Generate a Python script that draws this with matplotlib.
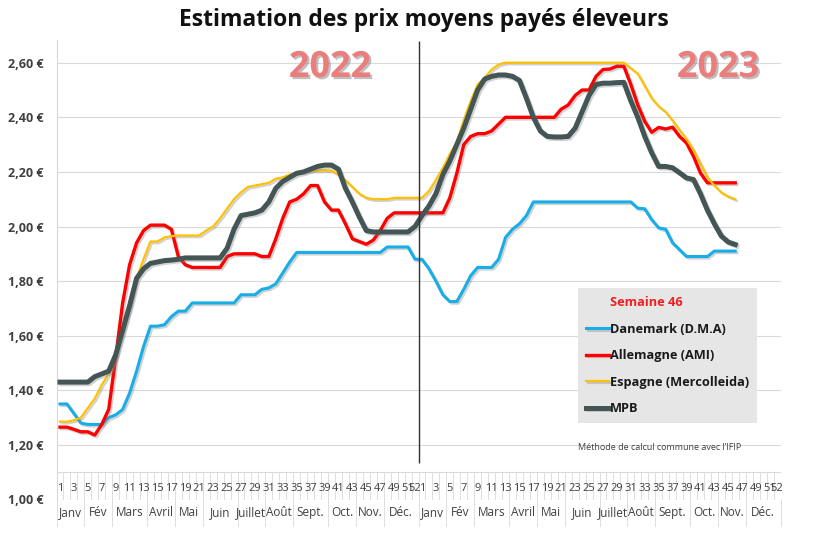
import numpy as np
import matplotlib
matplotlib.use("Agg")
import matplotlib.pyplot as plt
import matplotlib.patheffects as pe
from matplotlib.lines import Line2D
from matplotlib.transforms import blended_transform_factory

plt.rcParams['font.family'] = ['Open Sans', 'DejaVu Sans']

# weekly prices (EUR/kg), 2022 weeks 1-52 then 2023 weeks 1-46
weeks = list(range(1, 53))
months = ["Janv", "Fév", "Mars", "Avril", "Mai", "Juin", "Juillet", "Août",
          "Sept.", "Oct.", "Nov.", "Déc."]
month_weeks = [4, 4, 5, 4, 4, 5, 4, 4, 5, 4, 4, 5]

dk_2022 = [1.35, 1.35, 1.315, 1.28, 1.275, 1.275, 1.275, 1.30, 1.31, 1.33,
           1.39, 1.47, 1.56, 1.635, 1.635, 1.64, 1.67, 1.69, 1.69, 1.72,
           1.72, 1.72, 1.72, 1.72, 1.72, 1.72, 1.75, 1.75, 1.75, 1.77,
           1.775, 1.79, 1.83, 1.87, 1.905, 1.905, 1.905, 1.905, 1.905, 1.905,
           1.905, 1.905, 1.905, 1.905, 1.905, 1.905, 1.905, 1.925, 1.925, 1.925,
           1.925, 1.88]
dk_2023 = [1.88, 1.845, 1.80, 1.75, 1.725, 1.725, 1.77, 1.82, 1.85, 1.85,
           1.85, 1.88, 1.96, 1.99, 2.01, 2.04, 2.09, 2.09, 2.09, 2.09,
           2.09, 2.09, 2.09, 2.09, 2.09, 2.09, 2.09, 2.09, 2.09, 2.09,
           2.09, 2.067, 2.065, 2.025, 1.995, 1.99, 1.94, 1.915, 1.89, 1.89,
           1.89, 1.89, 1.91, 1.91, 1.91, 1.91]

de_2022 = [1.265, 1.265, 1.257, 1.248, 1.248, 1.236, 1.275, 1.33, 1.52, 1.72,
           1.86, 1.94, 1.985, 2.005, 2.005, 2.005, 1.99, 1.89, 1.86, 1.85,
           1.85, 1.85, 1.85, 1.85, 1.89, 1.90, 1.90, 1.90, 1.90, 1.89,
           1.89, 1.955, 2.03, 2.09, 2.10, 2.12, 2.15, 2.15, 2.09, 2.06,
           2.06, 2.01, 1.955, 1.945, 1.935, 1.95, 1.985, 2.03, 2.05, 2.05,
           2.05, 2.05]
de_2023 = [2.05, 2.05, 2.05, 2.05, 2.105, 2.195, 2.30, 2.33, 2.34, 2.34,
           2.35, 2.375, 2.40, 2.40, 2.40, 2.40, 2.40, 2.40, 2.40, 2.40,
           2.43, 2.445, 2.48, 2.50, 2.50, 2.55, 2.575, 2.577, 2.587, 2.587,
           2.52, 2.445, 2.385, 2.345, 2.363, 2.357, 2.364, 2.33, 2.306, 2.257,
           2.196, 2.16, 2.16, 2.16, 2.16, 2.16]

es_2022 = [1.285, 1.285, 1.29, 1.30, 1.335, 1.37, 1.42, 1.46, 1.52, 1.61,
           1.70, 1.81, 1.88, 1.945, 1.945, 1.96, 1.965, 1.967, 1.967, 1.967,
           1.967, 1.985, 2.00, 2.03, 2.065, 2.10, 2.125, 2.145, 2.15, 2.155,
           2.16, 2.175, 2.18, 2.19, 2.196, 2.20, 2.204, 2.205, 2.206, 2.205,
           2.19, 2.17, 2.145, 2.12, 2.105, 2.10, 2.10, 2.10, 2.105, 2.105,
           2.105, 2.105]
es_2023 = [2.105, 2.13, 2.17, 2.215, 2.265, 2.31, 2.39, 2.46, 2.52, 2.545,
           2.575, 2.593, 2.60, 2.60, 2.60, 2.60, 2.60, 2.60, 2.60, 2.60,
           2.60, 2.60, 2.60, 2.60, 2.60, 2.60, 2.60, 2.60, 2.60, 2.60,
           2.58, 2.56, 2.515, 2.47, 2.44, 2.42, 2.388, 2.353, 2.32, 2.28,
           2.23, 2.18, 2.15, 2.125, 2.11, 2.10]

mpb_2022 = [1.43, 1.43, 1.43, 1.43, 1.43, 1.45, 1.46, 1.47, 1.53, 1.62,
            1.71, 1.81, 1.845, 1.865, 1.87, 1.875, 1.877, 1.88, 1.885, 1.885,
            1.885, 1.885, 1.885, 1.885, 1.92, 1.99, 2.04, 2.045, 2.05, 2.06,
            2.09, 2.14, 2.165, 2.18, 2.195, 2.20, 2.21, 2.22, 2.225, 2.225,
            2.21, 2.14, 2.09, 2.035, 1.985, 1.98, 1.98, 1.98, 1.98, 1.98,
            1.98, 2.00]
mpb_2023 = [2.04, 2.075, 2.12, 2.19, 2.24, 2.30, 2.36, 2.43, 2.50, 2.54,
            2.55, 2.555, 2.555, 2.55, 2.535, 2.47, 2.40, 2.35, 2.33, 2.328,
            2.328, 2.33, 2.36, 2.42, 2.48, 2.52, 2.525, 2.525, 2.527, 2.528,
            2.46, 2.40, 2.33, 2.27, 2.22, 2.22, 2.215, 2.197, 2.178, 2.172,
            2.12, 2.06, 2.01, 1.965, 1.943, 1.934]


def two_years(a, b):
    b = list(b) + [np.nan] * (52 - len(b))
    return np.array(list(a) + b, float)


series = [
    ("Danemark (D.M.A)", two_years(dk_2022, dk_2023), "#17AEE8", 2.2),
    ("Allemagne (AMI)", two_years(de_2022, de_2023), "#FF0000", 2.4),
    ("Espagne (Mercolleida)", two_years(es_2022, es_2023), "#FFC000", 1.6),
    ("MPB", two_years(mpb_2022, mpb_2023), "#435555", 3.6),
]

W, H = 820, 546
fig = plt.figure(figsize=(W / 100, H / 100), dpi=100)
PX = 273.0  # pixels per euro
ax = fig.add_axes([56.5 / W, (H - 499.5) / H, 724 / W, 459.5 / H])
n = 104
x = np.arange(n)
ax.set_xlim(-0.5, n - 0.5)
ax.set_ylim(1.0, 1.0 + 459.5 / PX)

shadow = [pe.SimpleLineShadow(offset=(1.2, -1.2), shadow_color="grey",
                              alpha=0.35), pe.Normal()]
handles = [Line2D([], [], color="none", label="Semaine 46")]
for name, vals, col, lw in series:
    ln, = ax.plot(x, vals, color=col, lw=lw, label=name, zorder=3,
                  solid_joinstyle="round", path_effects=shadow)
    handles.append(ln)

# axes styling
ax.set_yticks(np.arange(1.0, 2.61, 0.2))
ax.set_yticklabels([f"{v:.2f} €".replace(".", ",")
                    for v in np.arange(1.0, 2.61, 0.2)],
                   fontsize=9, fontweight="bold", color="#404040")
ax.tick_params(axis="y", length=0, pad=9)
ax.set_xticks([])
ax.grid(axis="y", color="#D9D9D9", lw=0.8)
ax.set_axisbelow(True)
for s in ["top", "right", "bottom"]:
    ax.spines[s].set_visible(False)
ax.spines["left"].set_color("#D9D9D9")

# category table: week numbers row and month row
ax.hlines(1.10, -0.5, n - 0.5, color="#D9D9D9", lw=0.8)
ax.vlines(np.arange(-0.5, n), 1.0, 1.10, color="#D9D9D9", lw=0.6)
for yr in range(2):
    for j, w in enumerate(weeks):
        if w % 2 == 1 or w == 52:
            ax.text(yr * 52 + j, 1.04, str(w), ha="center", va="center",
                    fontsize=8, color="#404040")
trans = blended_transform_factory(ax.transData, ax.transAxes)
bounds = np.concatenate([[0], np.cumsum(month_weeks)])
for yr in range(2):
    for k, m in enumerate(months):
        a, b = yr * 52 + bounds[k], yr * 52 + bounds[k + 1]
        ax.text((a + b - 1) / 2, -0.028, m, transform=trans, ha="center",
                va="center", fontsize=8.5, color="#404040", clip_on=False)
        ax.plot([b - 0.5, b - 0.5], [-0.057, 0], transform=trans,
                color="#D9D9D9", lw=0.6, clip_on=False)
ax.plot([-0.5, -0.5], [-0.057, 0], transform=trans, color="#D9D9D9",
        lw=0.6, clip_on=False)

# year separator
ax.vlines(51.5, 1.0 + 36.5 / PX, 1.0 + 458.5 / PX, color="#303030", lw=1,
          zorder=4)

# legend
leg = ax.legend(handles=handles, loc="upper left",
                bbox_to_anchor=(578 / W, 1 - 288 / H),
                bbox_transform=fig.transFigure, borderaxespad=0,
                prop=dict(weight="bold", size=9.2), frameon=True,
                facecolor="#E7E6E6", edgecolor="none", fancybox=False,
                framealpha=1, handlelength=1.75, handletextpad=0.1,
                borderpad=0.65, labelspacing=1.05)
leg.get_texts()[0].set_color("#F01E1E")
for t in leg.get_texts()[1:]:
    t.set_color("#1A1A1A")

fig.text(578 / W, 1 - 447 / H, "Méthode de calcul commune avec l’IFIP",
         fontsize=6.5, color="#404040", va="center", ha="left")

for xc, lab in [(330, "2022"), (718, "2023")]:
    t = fig.text(xc / W, 1 - 68 / H, lab, fontsize=26, fontweight="bold",
                 color="#EB7D7D", ha="center", va="center")
    t.set_path_effects([pe.withSimplePatchShadow(offset=(1.5, -1.5),
                                                 shadow_rgbFace="grey",
                                                 alpha=0.5)])

fig.text(424 / W, 1 - 20 / H, "Estimation des prix moyens payés éleveurs",
         fontsize=16.5, fontweight="bold", color="#111111", ha="center",
         va="center")

fig.savefig("out.png", dpi=100)
